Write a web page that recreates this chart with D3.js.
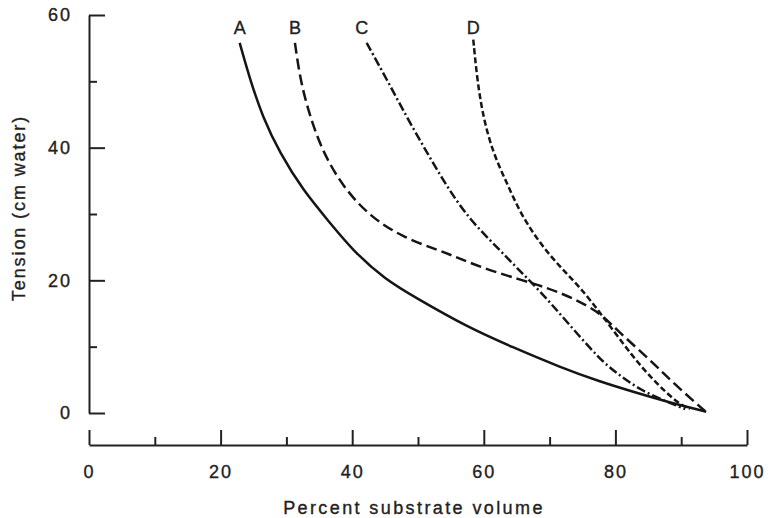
<!DOCTYPE html>
<html>
<head>
<meta charset="utf-8">
<script src="https://d3js.org/d3.v7.min.js"></script>
<style>
  body { margin: 0; background: #fff; }
  text { font-family: "Liberation Sans", Arial, Helvetica, sans-serif; fill: #222; stroke: #222; stroke-width: 0.35px; }
</style>
</head>
<body>
<script>

// curves: percent substrate volume vs tension (cm water)
var curveNames = ["A", "B", "C", "D"];

var volA = [22.9, 24.5, 26.4, 29.0, 32.5, 36.6, 40.0, 45.0, 49.8, 57.4, 64.4, 71.6, 77.7, 82.7, 87.8, 93.8];
var tenA = [55.8, 50.2, 44.6, 39.2, 33.6, 28.7, 24.6, 20.1, 17.3, 13.0, 9.9, 6.9, 4.7, 3.2, 1.7, 0.2];

var volB = [31.3, 32.1, 33.6, 35.6, 38.6, 42.7, 47.7, 52.9, 55.9, 59.4, 65.5, 69.6, 73.6, 77.7, 80.2, 85.3, 88.8, 93.6];
var tenB = [55.8, 50.2, 44.6, 39.2, 34.1, 29.6, 26.5, 24.6, 23.5, 22.0, 20.1, 18.9, 17.3, 15.1, 12.5, 8.0, 4.5, 0.3];

var volC = [42.2, 45.3, 48.3, 51.4, 54.4, 57.9, 62.0, 65.3, 68.8, 72.4, 77.7, 80.2, 83.7, 87.8, 90.6];
var tenC = [55.8, 50.2, 44.6, 39.2, 34.1, 29.1, 25.0, 21.6, 18.1, 14.0, 8.0, 6.0, 3.5, 1.7, 0.6];

var volD = [58.4, 59.0, 59.9, 61.4, 63.5, 65.5, 68.5, 71.6, 74.6, 77.7, 82.7, 85.7, 89.4, 91.3];
var tenD = [56.3, 50.2, 44.6, 39.2, 34.7, 30.2, 25.6, 22.0, 19.0, 15.1, 8.4, 5.0, 1.5, 0.6];

var xMajor = [0, 20, 40, 60, 80, 100];
var xMinor = [10, 30, 50, 70, 90];
var yMajor = [0, 20, 40, 60];
var yMinor = [10, 30, 50];

var width = 769, height = 518;

var svg = d3.select("body").append("svg").attr("width", width).attr("height", height);

var x = d3.scaleLinear().domain([0, 100]).range([89, 747]);
var y = d3.scaleLinear().domain([0, 60]).range([413, 15]);

// y axis, ticks point inwards
svg.append("g").attr("transform", "translate(89,0)")
  .call(d3.axisLeft(y).tickValues(yMajor).tickSize(-16).tickSizeOuter(0).tickPadding(17));
svg.append("g").attr("transform", "translate(89,0)")
  .call(d3.axisLeft(y).tickValues(yMinor).tickSize(-8).tickFormat(""))
  .select(".domain").remove();

// x axis sits below, ticks pointing up
svg.append("g").attr("transform", "translate(0,445)")
  .call(d3.axisBottom(x).tickValues(xMajor).tickSize(-15).tickSizeOuter(0).tickPadding(20));
svg.append("g").attr("transform", "translate(0,445)")
  .call(d3.axisBottom(x).tickValues(xMinor).tickSize(-8).tickFormat(""))
  .select(".domain").remove();

svg.selectAll(".domain, .tick line").attr("stroke", "#222").attr("stroke-width", 2);
svg.selectAll(".tick text").style("font-size", "18px").attr("fill", "#222").style("letter-spacing", "2px");

// axis titles
svg.append("text").attr("x", 414).attr("y", 514).attr("text-anchor", "middle")
  .style("font-size", "18px").style("letter-spacing", "2.4px")
  .text("Percent substrate volume");

svg.append("text").attr("transform", "translate(25,208) rotate(-90)").attr("text-anchor", "middle")
  .style("font-size", "18px").style("letter-spacing", "1.9px")
  .text("Tension (cm water)");

// curves
var series = [
  {name: "A", vol: volA, ten: tenA, dash: null},
  {name: "B", vol: volB, ten: tenB, dash: "11,5"},
  {name: "C", vol: volC, ten: tenC, dash: "9,3,2,3"},
  {name: "D", vol: volD, ten: tenD, dash: "6,3"}
];

var line = d3.line()
  .x(function(d) { return x(d[0]); })
  .y(function(d) { return y(d[1]); })
  .curve(d3.curveBasis);

svg.selectAll(".curve")
  .data(series)
  .enter()
  .append("path")
    .attr("class", "curve")
    .attr("d", function(s) { return line(s.vol.map(function(v, i) { return [v, s.ten[i]]; })); })
    .attr("fill", "none")
    .attr("stroke", "#151515")
    .attr("stroke-width", 2.5)
    .attr("stroke-dasharray", function(s) { return s.dash; });

// letters above each curve
svg.selectAll(".lab")
  .data(series)
  .enter()
  .append("text")
    .attr("class", "lab")
    .attr("x", function(s) { return x(s.vol[0]) - (s.name == "C" ? 5 : 0); })
    .attr("y", 34)
    .attr("text-anchor", "middle")
    .style("font-size", "18px")
    .text(function(s) { return s.name; });

</script>
</body>
</html>
